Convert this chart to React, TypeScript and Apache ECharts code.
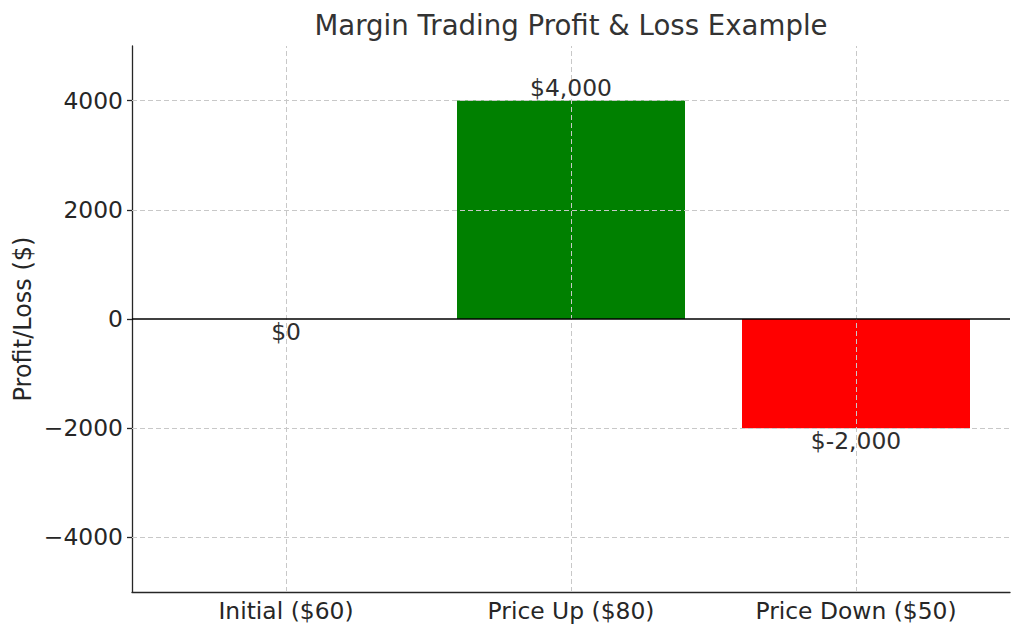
import React, { useEffect, useRef } from "react";
import * as echarts from "echarts";

const categories = ["Initial ($60)", "Price Up ($80)", "Price Down ($50)"];
const profitLoss = [0, 4000, -2000];
const barColors = ["#008000", "#008000", "#ff0000"];
const yTicks = [-4000, -2000, 0, 2000, 4000];
const yMin = -5000;
const yMax = 5000;
const titleText = "Margin Trading Profit & Loss Example";
const yName = "Profit/Loss ($)";

const FONT = "DejaVu Sans";
const GRID_COLOR = "#c8c8c8";
const FS = 23.4;

export default function App() {
  const ref = useRef<HTMLDivElement>(null);
  useEffect(() => {
    if (!ref.current) return;
    const chart = echarts.init(ref.current, undefined, { renderer: "svg" });
    const fmtTick = (v: number) => String(v).replace("-", "\u2212");
    const fmtMoney = (v: number) => "$" + v.toLocaleString("en-US");
    chart.setOption({
      animation: false,
      backgroundColor: "#ffffff",
      grid: [
        { left: 132, right: 14, top: 46, bottom: 45 },
        { left: 143.5, right: 25.5, top: 46, bottom: 45 },
      ],
      xAxis: [
        {
          type: "value",
          gridIndex: 0,
          min: 0,
          max: 1,
          axisLine: { show: true, onZero: false, lineStyle: { color: "#262626", width: 1.3 } },
          axisTick: { show: false },
          axisLabel: { show: false },
          splitLine: { show: false },
        },
        {
          type: "category",
          gridIndex: 1,
          data: categories,
          axisLine: { show: false },
          axisTick: { show: false },
          splitLine: { show: false },
          axisLabel: {
            fontFamily: FONT,
            fontSize: FS,
            color: "#262626",
            margin: 7,
            lineHeight: 24,
          },
        },
      ],
      yAxis: [
        {
          type: "value",
          gridIndex: 0,
          min: yMin,
          max: yMax,
          axisLine: { show: true, lineStyle: { color: "#262626", width: 1.3 } },
          axisTick: {
            show: true,
            length: 5,
            customValues: yTicks,
            lineStyle: { color: "#262626", width: 1.3 },
          },
          axisLabel: {
            customValues: yTicks,
            formatter: (v: number) => fmtTick(v),
            fontFamily: FONT,
            fontSize: FS,
            color: "#262626",
            margin: 9,
          },
          splitLine: { show: false },
        },
        {
          type: "value",
          gridIndex: 1,
          min: yMin,
          max: yMax,
          show: false,
        },
      ],
      graphic: [
        {
          type: "text",
          x: 571,
          y: 25,
          style: {
            text: titleText,
            align: "center",
            verticalAlign: "middle",
            fontFamily: FONT,
            fontSize: 27.6,
            fill: "#333333",
          },
        },
        {
          type: "text",
          x: 23,
          y: 319,
          rotation: Math.PI / 2,
          style: {
            text: yName,
            align: "center",
            verticalAlign: "middle",
            fontFamily: FONT,
            fontSize: 24,
            fill: "#262626",
          },
        },
      ],
      series: [
        {
          type: "bar",
          xAxisIndex: 1,
          yAxisIndex: 1,
          barWidth: 228,
          z: 2,
          data: profitLoss.map((v, i) => ({ value: v, itemStyle: { color: barColors[i] } })),
        },
        {
          type: "line",
          xAxisIndex: 1,
          yAxisIndex: 1,
          z: 4,
          symbol: "none",
          lineStyle: { opacity: 0 },
          silent: true,
          data: profitLoss,
          markLine: {
            silent: true,
            symbol: ["none", "none"],
            label: { show: false },
            lineStyle: { color: GRID_COLOR, type: [5, 3], width: 1 },
            data: categories.map((c) => ({ xAxis: c })),
          },
        },
        {
          type: "line",
          xAxisIndex: 0,
          yAxisIndex: 0,
          z: 4,
          symbol: "none",
          lineStyle: { opacity: 0 },
          silent: true,
          data: [
            [0, 0],
            [1, 0],
          ],
          markLine: {
            silent: true,
            symbol: ["none", "none"],
            label: { show: false },
            lineStyle: { color: GRID_COLOR, type: [5, 3], width: 1 },
            data: yTicks.filter((t) => t !== 0).map((t) => ({ yAxis: t })),
          },
        },
        {
          type: "line",
          xAxisIndex: 0,
          yAxisIndex: 0,
          z: 5,
          symbol: "none",
          lineStyle: { opacity: 0 },
          silent: true,
          data: [
            [0, 0],
            [1, 0],
          ],
          markLine: {
            silent: true,
            symbol: ["none", "none"],
            label: { show: false },
            lineStyle: { color: "#000000", type: "solid", width: 1.6 },
            data: [{ yAxis: 0 }],
          },
        },
        {
          type: "scatter",
          xAxisIndex: 1,
          yAxisIndex: 1,
          z: 6,
          symbolSize: 0,
          silent: true,
          itemStyle: { opacity: 1 },
          data: profitLoss.map((v) => ({
            value: v,
            label: {
              show: true,
              position: v > 0 ? "top" : "bottom",
              distance: 1,
              formatter: () => fmtMoney(v),
              fontFamily: FONT,
              fontSize: FS,
              lineHeight: 23,
              color: "#2e2e2e",
              opacity: 1,
            },
          })),
        },
      ],
    });
    return () => chart.dispose();
  }, []);
  return (
    <div
      ref={ref}
      style={{ position: "absolute", left: 0, top: 0, width: 1024, height: 637 }}
    />
  );
}
